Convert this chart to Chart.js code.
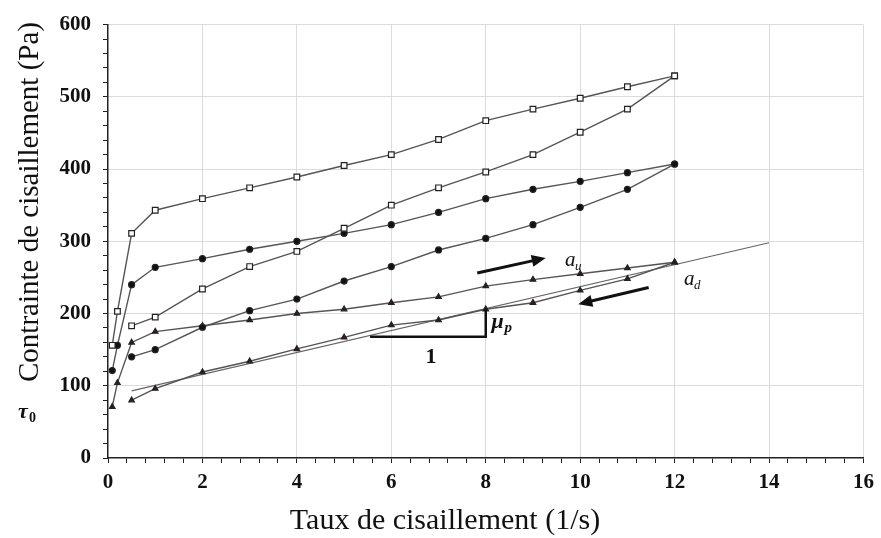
<!DOCTYPE html>
<html>
<head>
<meta charset="utf-8">
<script src="https://cdn.jsdelivr.net/npm/chart.js@4"></script>
<style>
  html, body { margin: 0; padding: 0; background: #fff; }
  #wrap { width: 881px; height: 538px; }
</style>
</head>
<body>
<div id="wrap"><canvas id="chart" width="881" height="538"></canvas></div>
<script>
// --- Data --- //
const upRates = [0.09, 0.2, 0.5, 1, 2, 3, 4, 5, 6, 7, 8, 9, 10, 11, 12];
const downRates = [12, 11, 10, 9, 8, 7, 6, 5, 4, 3, 2, 1, 0.5];

const squaresUp = [156, 203, 311, 343, 359, 374, 389, 405, 420, 441, 467, 483, 498, 514, 529];
const squaresDown = [529, 483, 451, 420, 396, 374, 350, 318, 286, 265, 234, 195, 183];
const circlesUp = [121, 156, 240, 264, 276, 289, 300, 311, 323, 340, 359, 372, 383, 395, 407];
const circlesDown = [407, 372, 347, 323, 304, 288, 265, 245, 220, 204, 181, 150, 140];
const trianglesUp = [71, 104, 160, 175, 183, 191, 200, 206, 215, 223, 238, 247, 255, 263, 271];
const trianglesDown = [271, 248, 232, 215, 206, 191, 184, 167, 151, 134, 119, 96, 80];

// Bingham fit line (two end points)
const fitRates = [0.5, 14];
const fitStress = [93, 298];

const xTitle = 'Taux de cisaillement (1/s)';
const yTitle = 'Contrainte de cisaillement (Pa)';

const toPoints = (xs, ys) => xs.map((x, i) => ({ x: x, y: ys[i] }));

const LINE = '#555';
const SERIF = '"Liberation Serif", "DejaVu Serif", serif';

function series(xs, ys, style, fill, radius) {
    return {
        data: toPoints(xs, ys),
        showLine: true,
        borderColor: LINE,
        borderWidth: 1.4,
        pointStyle: style,
        pointRadius: radius,
        pointBackgroundColor: fill,
        pointBorderColor: '#222',
        pointBorderWidth: 1.2,
        tension: 0
    };
}

const isMajor = (v, step) => Math.abs(v / step - Math.round(v / step)) < 1e-6;

// Annotations: titles, arrows, slope triangle and symbols
const annotate = {
    id: 'annotate',
    afterDraw(chart) {
        const { ctx, scales: { x, y } } = chart;
        const px = v => x.getPixelForValue(v);
        const py = v => y.getPixelForValue(v);
        ctx.save();
        ctx.fillStyle = '#111';
        ctx.strokeStyle = '#111';

        // axis titles
        ctx.font = '30px ' + SERIF;
        ctx.textAlign = 'center';
        ctx.textBaseline = 'middle';
        ctx.fillText(xTitle, 445, 521);
        ctx.save();
        ctx.translate(30, 202);
        ctx.rotate(-Math.PI / 2);
        ctx.font = '29px ' + SERIF;
        ctx.fillText(yTitle, 0, 0);
        ctx.restore();

        // slope triangle
        ctx.lineWidth = 2.5;
        ctx.beginPath();
        ctx.moveTo(px(5.55), py(168));
        ctx.lineTo(px(8), py(168));
        ctx.lineTo(px(8), py(206));
        ctx.stroke();

        // arrows
        const arrow = (x0, y0, x1, y1) => {
            const ax = px(x0), ay = py(y0), bx = px(x1), by = py(y1);
            const ang = Math.atan2(by - ay, bx - ax);
            ctx.lineWidth = 3;
            ctx.beginPath();
            ctx.moveTo(ax, ay);
            ctx.lineTo(bx - 8 * Math.cos(ang), by - 8 * Math.sin(ang));
            ctx.stroke();
            ctx.beginPath();
            ctx.moveTo(bx, by);
            ctx.lineTo(bx - 14 * Math.cos(ang) + 6 * Math.sin(ang), by - 14 * Math.sin(ang) - 6 * Math.cos(ang));
            ctx.lineTo(bx - 14 * Math.cos(ang) - 6 * Math.sin(ang), by - 14 * Math.sin(ang) + 6 * Math.cos(ang));
            ctx.closePath();
            ctx.fill();
        };
        arrow(7.82, 256, 9.27, 277);
        arrow(11.45, 236, 9.96, 213);

        // labels
        ctx.textAlign = 'left';
        ctx.textBaseline = 'alphabetic';
        ctx.font = 'italic 21px ' + SERIF;
        ctx.fillText('a', px(9.68), py(266));
        ctx.font = 'italic 13px ' + SERIF;
        ctx.fillText('u', px(9.68) + 10, py(266) + 4);
        ctx.font = 'italic 21px ' + SERIF;
        ctx.fillText('a', px(12.2), py(239));
        ctx.font = 'italic 13px ' + SERIF;
        ctx.fillText('d', px(12.2) + 10, py(239) + 4);

        ctx.font = 'bold italic 22px ' + SERIF;
        ctx.fillText('\u03bc', px(8.12), py(180));
        ctx.font = 'bold italic 15px ' + SERIF;
        ctx.fillText('p', px(8.12) + 13, py(180) + 4);

        ctx.font = 'bold 22px ' + SERIF;
        ctx.textAlign = 'center';
        ctx.fillText('1', px(6.84), py(132));

        ctx.textAlign = 'left';
        ctx.font = 'bold italic 22px ' + SERIF;
        ctx.fillText('\u03c4', 18, py(56));
        ctx.font = 'bold 14px ' + SERIF;
        ctx.fillText('0', 29, py(56) + 4);
        ctx.restore();
    }
};

new Chart(document.getElementById('chart'), {
    type: 'scatter',
    data: {
        datasets: [
            series(upRates, squaresUp, 'rect', '#fff', 4),
            series(downRates, squaresDown, 'rect', '#fff', 4),
            series(upRates, circlesUp, 'circle', '#111', 3),
            series(downRates, circlesDown, 'circle', '#111', 3),
            series(upRates, trianglesUp, 'triangle', '#3a1a1a', 3.2),
            series(downRates, trianglesDown, 'triangle', '#3a1a1a', 3.2),
            { data: toPoints(fitRates, fitStress), showLine: true, borderColor: '#666', borderWidth: 1.2, pointRadius: 0 }
        ]
    },
    options: {
        responsive: false,
        animation: false,
        layout: { padding: { left: 0, right: 14, top: 15, bottom: 0 } },
        plugins: { legend: { display: false }, tooltip: { enabled: false } },
        scales: {
            x: {
                type: 'linear', min: 0, max: 16,
                afterFit: s => { s.height = 80; },
                border: { color: '#222', width: 1.5 },
                grid: {
                    color: c => (c.tick && isMajor(c.tick.value, 2) && c.tick.value > 0 ? '#dcdcdc' : 'rgba(0,0,0,0)'),
                    tickColor: '#222', tickLength: 5, lineWidth: 1
                },
                ticks: {
                    stepSize: 0.4, autoSkip: false, maxRotation: 0, padding: 7, color: '#111',
                    font: { family: SERIF, size: 21, weight: 'bold' },
                    callback: v => (isMajor(v, 2) ? String(Math.round(v)) : '')
                }
            },
            y: {
                type: 'linear', min: 0, max: 600,
                afterFit: s => { s.width = 108; },
                border: { color: '#222', width: 1.5 },
                grid: {
                    color: c => (c.tick && isMajor(c.tick.value, 100) && c.tick.value > 0 ? '#dcdcdc' : 'rgba(0,0,0,0)'),
                    tickColor: '#222', tickLength: 5, lineWidth: 1
                },
                ticks: {
                    stepSize: 20, autoSkip: false, padding: 12, color: '#111',
                    font: { family: SERIF, size: 21, weight: 'bold' },
                    callback: v => (isMajor(v, 100) ? String(Math.round(v)) : '')
                }
            }
        }
    },
    plugins: [annotate]
});
</script>
</body>
</html>
